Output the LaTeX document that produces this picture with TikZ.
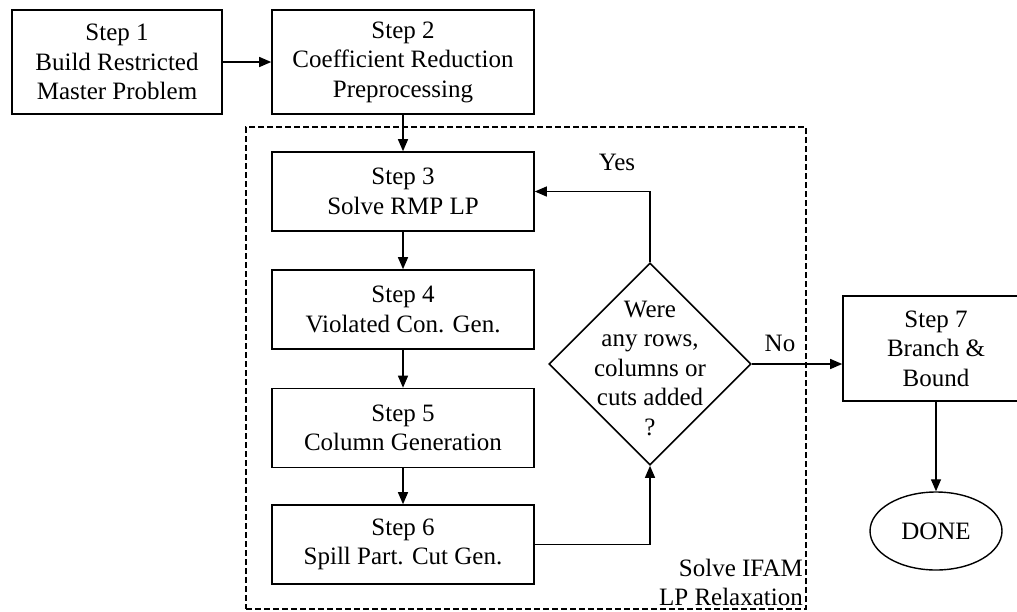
\documentclass[tikz,border=0pt]{standalone}
\usepackage{fontspec}
\setmainfont{Liberation Serif}
\usetikzlibrary{arrows.meta,shapes.geometric,calc}
\begin{document}
\begin{tikzpicture}[
  x=1pt, y=-1pt,
  font=\fontsize{25}{29.5}\selectfont,
  stepbox/.style={draw, line width=1.6pt, align=center, inner sep=0pt,
                  minimum width=262pt, minimum height=79pt},
  frame/.style={draw, line width=2pt, dash pattern=on 6pt off 3pt,
                inner sep=0pt},
  conn/.style={line width=1.3pt, -{Triangle[length=12pt,width=10pt]}},
  plain/.style={line width=1.3pt}
]
\useasboundingbox (0,0) rectangle (1017,611);
\clip (0,0) rectangle (1017,611);

% dashed frame around the LP relaxation loop
\node[frame, minimum width=560pt, minimum height=482pt] (ifam) at (526,368) {};
\node[align=right, anchor=south east, inner sep=0pt] (lbl)
  at ($(ifam.south east)+(-4,-4)$) {Solve IFAM\\LP Relaxation};

% process steps
\node[stepbox, minimum width=210pt, minimum height=104pt] (s1) at (117,62)
  {Step 1\\Build Restricted\\Master Problem};
\node[stepbox, minimum height=104pt] (s2) at (403,62)
  {Step 2\\Coefficient Reduction\\Preprocessing};
\node[stepbox] (s3) at (403,191.5) {Step 3\\Solve RMP LP};
\node[stepbox] (s4) at (403,309.5) {Step 4\\Violated Con. Gen.};
\node[stepbox] (s5) at (403,428) {Step 5\\Column Generation};
\node[stepbox] (s6) at (403,544.5) {Step 6\\Spill Part. Cut Gen.};
\node[stepbox, minimum width=186pt, minimum height=105pt] (s7) at (936,348.5)
  {Step 7\\Branch \&\\Bound};
\node[draw, ellipse, line width=1.4pt, minimum width=132pt,
      minimum height=78pt, inner sep=0pt] (done) at (936,531) {DONE};

% decision
\node[draw, diamond, line width=1.6pt, aspect=1, inner sep=0pt,
      minimum width=202pt, minimum height=202pt] (d) at (650,364) {};
\node[align=center, inner sep=0pt] (dq) at ($(d.center)+(0,4)$)
  {Were\\any rows,\\columns or\\cuts added\\?};

% branch labels
\node (yes) at (617,162) {Yes};
\node (no) at (780,343) {No};

% connectors
\draw[conn] (s1) -- (s2);
\draw[conn] (s2) -- (s3);
\draw[conn] (s3) -- (s4);
\draw[conn] (s4) -- (s5);
\draw[conn] (s5) -- (s6);
\draw[conn] (s6.east) -| (d.south);
\draw[conn] (d.north) |- (s3.east);
\draw[conn] (d.east) -- (d.east -| s7.west);
\draw[conn] (s7) -- (done);
\end{tikzpicture}
\end{document}
